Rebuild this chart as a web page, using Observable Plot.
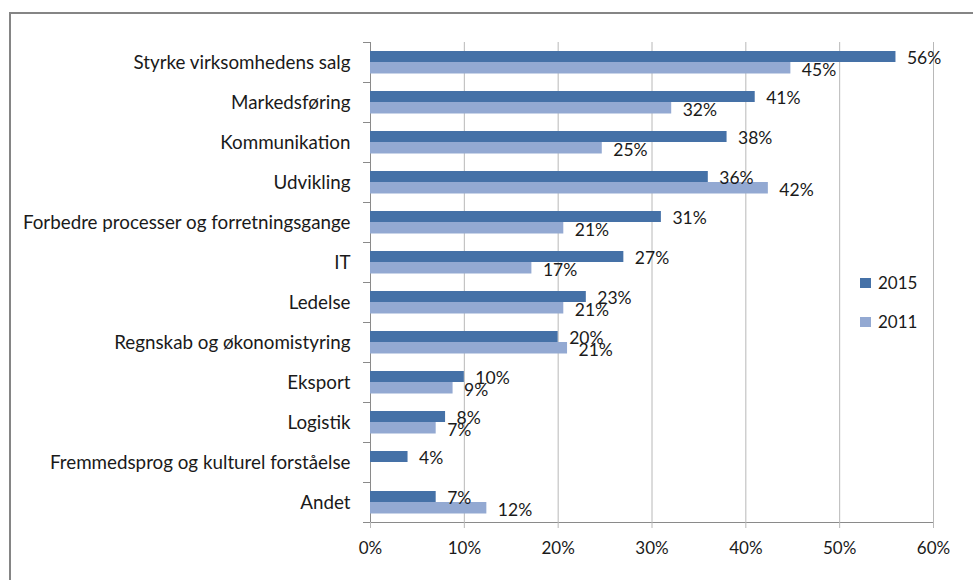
<!DOCTYPE html>
<html><head><meta charset="utf-8">
<script src="https://cdn.jsdelivr.net/npm/d3@7"></script>
<script src="https://cdn.jsdelivr.net/npm/@observablehq/plot@0.6"></script>
<style>
body{margin:0;background:#fff;font-family:Lato,sans-serif;}
#wrap{position:relative;width:973px;height:580px;overflow:hidden;background:#fff;}
#frame{position:absolute;left:9px;top:12px;width:1100px;height:700px;border:2px solid #858585;box-sizing:border-box;}
#chart{position:absolute;left:0;top:0;}
#legend{position:absolute;left:860px;top:272px;}
</style></head><body>
<div id="wrap"><div id="frame"></div><div id="chart"></div><div id="legend"></div></div>
<script>
const categories = [
  "Styrke virksomhedens salg",
  "Markedsføring",
  "Kommunikation",
  "Udvikling",
  "Forbedre processer og forretningsgange",
  "IT",
  "Ledelse",
  "Regnskab og økonomistyring",
  "Eksport",
  "Logistik",
  "Fremmedsprog og kulturel forståelse",
  "Andet"
];
const values2015 = [56, 41, 38, 36, 31, 27, 23, 20, 10, 8, 4, 7];
const values2011 = [44.8, 32.1, 24.7, 42.4, 20.6, 17.2, 20.6, 21, 8.8, 7, null, 12.4];
const seriesNames = ["2015", "2011"];
const seriesColors = ["#4571a7", "#93a9d2"];
const xTicks = [0, 10, 20, 30, 40, 50, 60];

const pct = d => d + "%";
const d15 = categories.map((c, i) => ({cat: c, series: seriesNames[0], value: values2015[i]})).filter(d => d.value != null);
const d11 = categories.map((c, i) => ({cat: c, series: seriesNames[1], value: values2011[i]})).filter(d => d.value != null);

const axisGray = "#8a8a8a";
const gridGray = "#b8b8b8";

const plot = Plot.plot({
  width: 973, height: 580,
  marginLeft: 370, marginRight: 40, marginTop: 42, marginBottom: 58,
  style: {fontFamily: "Lato, sans-serif", fontSize: "17px", color: "#1a1a1a", background: "transparent"},
  x: {domain: [0, 60], ticks: xTicks, tickFormat: pct},
  y: {domain: categories, padding: 0},
  color: {domain: seriesNames, range: seriesColors},
  marks: [
    Plot.gridX(xTicks, {stroke: gridGray, strokeOpacity: 1}),
    Plot.frame({anchor: "bottom", stroke: axisGray}),
    Plot.ruleX([0], {stroke: axisGray}),
    Plot.axisX(xTicks, {tickSize: 6, tickPadding: 13, stroke: gridGray, tickFormat: pct, label: null}),
    Plot.axisY({tickSize: 0, tickPadding: 20, label: null, fontSize: 18.8}),
    Plot.axisY({text: null, tickSize: 7, dy: -20, stroke: axisGray, label: null}),
    Plot.axisY({ticks: [categories[categories.length - 1]], text: null, tickSize: 7, dy: 20, stroke: axisGray, label: null}),
    Plot.barX(d15, {x: "value", y: "cat", fill: "series", insetTop: 9, insetBottom: 20}),
    Plot.barX(d11, {x: "value", y: "cat", fill: "series", insetTop: 20, insetBottom: 8.5}),
    Plot.text(d15, {x: "value", y: "cat", text: d => Math.round(d.value) + "%", textAnchor: "start", dx: 11, dy: -4.5, fill: "#1a1a1a", fontSize: 17.5}),
    Plot.text(d11, {x: "value", y: "cat", text: d => Math.round(d.value) + "%", textAnchor: "start", dx: 11, dy: 7.5, fill: "#1a1a1a", fontSize: 17.5})
  ]
});
document.getElementById("chart").appendChild(plot);

const leg = Plot.legend({
  color: {domain: seriesNames, range: seriesColors},
  legend: "swatches", columns: 1, swatchWidth: 11, swatchHeight: 10,
  style: {fontFamily: "Lato, sans-serif", fontSize: "17px", color: "#1a1a1a"}
});
for (const s of leg.querySelectorAll("svg")) {
  s.style.marginRight = "7px";
  s.parentElement.style.marginBottom = "17px";
}
document.getElementById("legend").appendChild(leg);
</script>
</body></html>
